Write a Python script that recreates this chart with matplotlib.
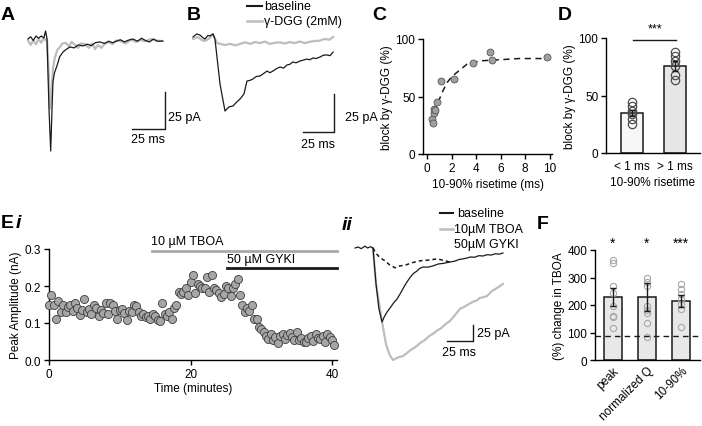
import numpy as np
import matplotlib.pyplot as plt
from matplotlib.lines import Line2D

plt.rcParams['font.family'] = ['Liberation Sans', 'DejaVu Sans']
plt.rcParams['font.size'] = 8.5
plt.rcParams['axes.linewidth'] = 1.0

# A: single EPSC, baseline vs gamma-DGG (ms, pA)
a_t = [0, 2, 4, 6, 8, 10, 12, 13.3, 14.4, 15.9, 17.2, 18.2, 18.9, 20, 22, 24, 26.5, 29, 31.8, 35, 38,
       41.7, 45, 48, 51, 54.5, 58, 61, 64, 67, 70, 73, 76, 79.5, 83, 86, 89, 92, 95, 98, 102]
a_base = [0, 1.5, -1, 2, 0.5, 2, 0.7, 5.4, 0, -47, -75.7, -47, -29, -23, -18, -12, -8.8, -7, -5.4, -6, -4,
          -4.7, -3.5, -4.5, -2.5, -2, -3, -1.5, -2.5, -1.4, -0.5, -2, -0.8, 0, -1.5, 0.5, -1, -2, 0, -1.5, -1.4]
a_dgg_t = [0, 2, 4, 6, 8, 10, 12, 13.5, 14.4, 15.9, 16.7, 17.8, 18.9, 20, 21.2, 22.5, 24.2, 26, 28.8, 31, 33,
           35.6, 38, 40, 43, 46, 48.5, 50.8, 53, 55.5, 58, 61, 64, 67, 70, 74, 78, 82, 85, 89, 93, 97, 102]
a_dgg = [-1, -4, -1, -3.5, 0, -2.5, 0.5, -1, 0, -27, -47, -37, -20, -14, -10, -7, -5.4, -3, -2.7, -5, -2,
         -4, -6, -3, -3.4, -6, -3, -6.8, -4, -6, -3.4, -2, -3.5, -1, -1.4, -3, -0.5, -2, -0.7, -1.5, 0, -1, -1.4]

# B
b_t = [0, 3, 5.6, 8, 9.7, 12, 13.7, 16.1, 17.7, 21.8, 25.8, 29, 32.3, 35, 37.9, 41.1, 43.5, 46, 48.4, 51, 54,
       57, 59.7, 62, 64.5, 67, 70.2, 73, 75.8, 78, 80.6, 83, 86.3, 89, 91.9, 94, 96.8, 99, 102.4, 105, 108, 110.5, 113]
b_base = [0, 2, 1.3, -0.5, -1.3, 1, 0.7, 2, -1.3, -31, -48.7, -46, -45.4, -43, -40.8, -37.5, -29, -28.5, -27.6,
          -26, -25.7, -24, -22.4, -23.5, -22.4, -21, -19.7, -20.5, -18.4, -18, -16.4, -17, -15.8, -15.2, -14.5,
          -15, -13.8, -14.2, -13.2, -12, -11.8, -12.3, -9.9]
b_dgg_t = [0, 4, 7, 9.7, 13, 16.1, 19.4, 22, 25.8, 30, 34, 37.9, 42, 46, 50, 54, 58, 62, 66, 70, 74, 78, 82,
           86, 90, 94, 98, 102, 106, 110, 113]
b_dgg = [-1.3, 0, -2, -2.6, -1, 2, -4, -4.5, -5.3, -4.5, -5.5, -4.6, -3.5, -4.5, -3.3, -4, -3, -4.6, -3.8,
         -3.5, -4.3, -3.3, -4, -3, -4, -3.2, -2.6, -2.5, -1.3, -1.8, 0]

# C: block vs risetime
c_rise = [0.41, 0.49, 0.54, 0.59, 0.65, 0.81, 1.16, 2.22, 3.79, 5.15, 5.31, 9.76]
c_block = [30.4, 27, 36, 39, 38, 45.5, 63.7, 65, 79, 89, 81.7, 84]
c_fit_x = [0.33, 0.6, 0.94, 1.3, 1.63, 2.0, 2.44, 3.25, 4.33, 5.96, 7.5, 9.7]
c_fit_y = [27.6, 37, 46, 55, 62, 67, 71, 78, 81, 82, 83, 83]

# D
d_labels = ['< 1 ms', '> 1 ms']
d_mean = [34.8, 75.9]
d_sem = [3, 4.5]
d_points = [[44.6, 40.6, 36.3, 34, 29.6, 25.2], [87.6, 84, 80.3, 76, 67.8, 63.5]]

# E i: time course (min, nA)
ei_amp = [0.150, 0.175, 0.148, 0.112, 0.160, 0.130, 0.148, 0.130, 0.142, 0.150, 0.132, 0.155,
          0.140, 0.122, 0.135, 0.165, 0.130, 0.138, 0.124, 0.150, 0.140, 0.120, 0.135, 0.128,
          0.155, 0.125, 0.155, 0.150, 0.132, 0.112, 0.135, 0.138, 0.128, 0.108, 0.132, 0.130,
          0.148, 0.145, 0.130, 0.118, 0.125, 0.115, 0.120, 0.112, 0.125, 0.118, 0.108, 0.105,
          0.155, 0.125, 0.120, 0.130, 0.112, 0.140, 0.148, 0.185, 0.178, 0.185, 0.195, 0.175,
          0.210, 0.230, 0.180, 0.205, 0.200, 0.195, 0.195, 0.225, 0.185, 0.230, 0.195, 0.190,
          0.180, 0.170, 0.178, 0.200, 0.195, 0.172, 0.195, 0.205, 0.220, 0.175, 0.150, 0.130,
          0.140, 0.132, 0.150, 0.112, 0.112, 0.088, 0.085, 0.075, 0.065, 0.058, 0.070, 0.055,
          0.062, 0.045, 0.065, 0.070, 0.058, 0.068, 0.072, 0.062, 0.055, 0.075, 0.055, 0.060,
          0.050, 0.048, 0.060, 0.065, 0.052, 0.070, 0.060, 0.058, 0.065, 0.048, 0.070, 0.062,
          0.055, 0.040]
ei_time = np.arange(len(ei_amp)) / 3.0
tboa_on, gyki_on, drug_off = 14.6, 25.2, 40.7

# E ii traces (ms, pA)
e_t = [0, 3, 6, 9.6, 12, 15, 17.3, 20.2, 23, 26, 28, 30.8, 34, 37, 40.4, 44, 47, 50, 53, 56, 59.6, 62, 65.4,
       70, 75, 80, 85, 91.3, 96, 100, 104, 107.7, 111, 115, 119, 123, 127, 131, 135, 139, 142.3]
e_base = [0, 1.5, -1, 3, 0, 2, 0, -56, -95, -115.6, -108, -100, -93, -86, -79.7, -70, -61, -53, -46, -40, -36,
          -32, -29.7, -30, -28, -25, -24, -21.9, -20.5, -18, -17, -15.6, -14, -14.5, -12, -12.5, -10.5, -11,
          -9, -9.5, -7.8]
e_tboa_t = [17.3, 20.2, 26, 29.8, 33, 36.5, 40, 43, 46, 50, 53, 56, 59.6, 63, 67, 71, 75, 79, 83, 87,
            91.3, 95, 98, 101, 105, 109, 113.5, 117, 120, 123, 127, 131, 135, 139, 142.3]
e_tboa = [0, -56, -115.6, -150, -166, -175, -172, -170, -169, -164, -160, -157, -153, -148, -144, -138,
          -134, -129, -125, -119, -114, -107, -101, -95, -92, -88, -84, -82, -78, -77, -75, -68, -64, -60, -56]
e_gyki_t = [17.3, 20, 24, 28.8, 33, 38.5, 43, 48, 55, 62.5, 70, 79, 87, 91]
e_gyki = [0, -8, -15, -20, -26, -31, -28, -27, -23, -20, -19, -17, -20, -22]

# F: % change in TBOA
f_labels = ['peak', 'normalized Q', '10-90%']
f_mean = [228, 230, 216]
f_sem = [33, 50, 22]
f_points = [[365, 352, 270, 245, 195, 160, 155, 118],
            [298, 285, 268, 198, 182, 172, 135, 82],
            [275, 258, 240, 222, 205, 185, 120]]
f_stars = ['*', '*', '***']
f_ref = 86

BLACK = '#1a1a1a'
GREY = '#bdbdbd'
W, H = 702, 427

fig = plt.figure(figsize=(W / 100, H / 100), dpi=100)


def box(l, t, r, b):
    return fig.add_axes([l / W, 1 - b / H, (r - l) / W, (b - t) / H])


def trace_axes(l, t, r, b, x0, y0, sx, sy):
    ax = box(l, t, r, b)
    ax.set_xlim((l - x0) / sx, (r - x0) / sx)
    ax.set_ylim(-(b - y0) / sy, -(t - y0) / sy)
    ax.axis('off')
    return ax


def ftext(x, y, s, **kw):
    fig.text(x / W, 1 - y / H, s, **kw)


def fline(x0, x1, y, **kw):
    fig.add_artist(Line2D([x0 / W, x1 / W], [1 - y / H, 1 - y / H], **kw))


def scalebar(ax, x, y, dx=25, dy=25):
    ax.plot([x - dx, x, x], [y, y, y + dy], color=BLACK, lw=1.0, clip_on=False)


def style(ax):
    for s in ['top', 'right']:
        ax.spines[s].set_visible(False)
    ax.tick_params(direction='out', length=3.5, width=1.0, pad=2, labelsize=8.5)


def panel(x, y, s, **kw):
    ftext(x, y, s, fontsize=14, fontweight='bold', va='center', ha='left', **kw)


# ---- A
ax = trace_axes(20, 20, 180, 160, 28, 40, 1.32, 1.48)
ax.plot(a_dgg_t, a_dgg, color=GREY, lw=1.6)
ax.plot(a_t, a_base, color=BLACK, lw=0.9)
scalebar(ax, 103.8, -60.8)
ax.text(106, -52.7, '25 pA', fontsize=9, va='center')
ax.text(91, -67.6, '25 ms', fontsize=9, va='center', ha='center')
panel(1, 16, 'A')

# ---- B
ax = trace_axes(185, 20, 340, 160, 193, 38, 1.24, 1.52)
ax.plot(b_dgg_t, b_dgg, color=GREY, lw=1.6)
ax.plot(b_t, b_base, color=BLACK, lw=0.9)
scalebar(ax, 113.7, -62.5)
ax.text(122.5, -52.5, '25 pA', fontsize=9, va='center')
ax.text(101, -70.5, '25 ms', fontsize=9, va='center', ha='center')
panel(187, 16, 'B')
fline(247, 262, 7, color=BLACK, lw=1.5)
fline(247, 262, 22, color=GREY, lw=1.8)
ftext(264, 7, 'baseline', fontsize=9, va='center')
ftext(264, 22, 'γ-DGG (2mM)', fontsize=9, va='center')

# ---- C
ax = box(423, 40, 552, 155)
style(ax)
ax.plot(c_fit_x, c_fit_y, color=BLACK, lw=1.1, ls=(0, (4, 3)))
ax.plot(c_rise, c_block, 'o', ms=5, mfc='#a0a0a0', mec='#555555', mew=0.6, clip_on=False)
ax.set_xlim(-0.33, 10.2)
ax.set_ylim(0, 100)
ax.set_xticks([0, 2, 4, 6, 8, 10])
ax.set_yticks([0, 50, 100])
ax.set_xlabel('10-90% risetime (ms)', labelpad=3)
ax.set_ylabel('block by γ-DGG (%)', labelpad=2)
panel(372, 16, 'C')

# ---- D
ax = box(606, 39, 700, 154)
style(ax)
ax.tick_params(axis='x', length=0, pad=5)
xd = np.arange(len(d_labels))
ax.bar(xd, d_mean, width=0.51, color=['#f7f7f7', '#e6e6e6'], edgecolor=BLACK, lw=1.1, zorder=1)
ax.errorbar(xd, d_mean, yerr=d_sem, fmt='none', ecolor=BLACK, elinewidth=1.0, capsize=2.5, zorder=3)
for i, pts in enumerate(d_points):
    ax.plot([xd[i]] * len(pts), pts, 'o', ms=6, mfc='none', mec='#4d4d4d', mew=0.9, zorder=2)
ax.set_xlim(-0.605, 1.58)
ax.set_ylim(0, 100)
ax.set_yticks([0, 50, 100])
ax.set_xticks(xd)
ax.set_xticklabels(d_labels)
ax.set_xlabel('10-90% risetime', labelpad=3)
ax.set_ylabel('block by γ-DGG (%)', labelpad=2)
ax.plot([0.03, 1.03], [98.5, 98.5], color=BLACK, lw=1.0, clip_on=False)
ax.text(0.53, 103, '***', ha='center', va='bottom', fontsize=9)
panel(558, 16, 'D')

# ---- E i
ax = box(49, 250, 337, 361)
style(ax)
ax.scatter(ei_time, ei_amp, s=34, c='#a6a6a6', edgecolors='#3d3d3d', linewidths=0.6, zorder=3, clip_on=False)
ax.set_xlim(0, 40.7)
ax.set_ylim(0, 0.3)
ax.set_xticks([0, 20, 40])
ax.set_yticks([0, 0.1, 0.2, 0.3])
ax.set_yticklabels(['0.0', '0.1', '0.2', '0.3'])
ax.set_xlabel('Time (minutes)', labelpad=2)
ax.set_ylabel('Peak Amplitude (nA)', labelpad=2)
ax.plot([tboa_on, drug_off], [0.295, 0.295], color='#a8a8a8', lw=2.0, clip_on=False)
ax.plot([gyki_on, drug_off], [0.249, 0.249], color=BLACK, lw=2.0, clip_on=False)
ax.text(tboa_on - 0.2, 0.305, '10 µM TBOA', va='bottom', fontsize=9)
ax.text(gyki_on, 0.258, '50 µM GYKI', va='bottom', fontsize=9)
panel(1, 224, 'E')
ftext(16, 224, 'i', fontsize=14, fontweight='bold', fontstyle='italic', va='center')

# ---- E ii
ax = trace_axes(340, 200, 520, 380, 355, 249, 1.04, 0.64)
ax.plot(e_tboa_t, e_tboa, color=GREY, lw=1.6)
ax.plot(e_gyki_t, e_gyki, color=BLACK, lw=1.1, ls=(0, (2.5, 2)))
ax.plot(e_t, e_base, color=BLACK, lw=0.9)
scalebar(ax, 113.5, -145)
ax.text(117, -133, '25 pA', fontsize=9, va='center')
ax.text(100, -162, '25 ms', fontsize=9, va='center', ha='center')
ftext(342, 226, 'ii', fontsize=14, fontweight='bold', fontstyle='italic', va='center')
fline(440, 453, 214, color=BLACK, lw=1.5)
fline(440, 453, 230, color=GREY, lw=1.8)
ftext(457, 214, 'baseline', fontsize=9, va='center')
ftext(454, 230, '10µM TBOA', fontsize=9, va='center')
ftext(454, 245, '50µM GYKI', fontsize=9, va='center')

# ---- F
ax = box(595, 251, 700, 361)
style(ax)
ax.tick_params(axis='x', length=0, pad=3)
xf = np.arange(len(f_labels))
ax.bar(xf, f_mean, width=0.53, color='#e8e8e8', edgecolor=BLACK, lw=1.1, zorder=1)
ax.errorbar(xf, f_mean, yerr=f_sem, fmt='none', ecolor=BLACK, elinewidth=1.0, capsize=2.5, zorder=3)
for i, pts in enumerate(f_points):
    ax.plot([xf[i]] * len(pts), pts, 'o', ms=4.5, mfc='none', mec='#a8a8a8', mew=0.8, zorder=2)
ax.axhline(f_ref, color=BLACK, lw=1.0, ls=(0, (4, 3)), zorder=4, xmax=1.0)
for i, s in enumerate(f_stars):
    ax.text(xf[i], 428, s, ha='center', va='center', fontsize=10)
ax.set_xlim(-0.53, 2.56)
ax.set_ylim(0, 400)
ax.set_yticks([0, 100, 200, 300, 400])
ax.set_xticks(xf)
ax.set_xticklabels(f_labels, rotation=45, ha='right', rotation_mode='anchor')
ax.set_ylabel('(%) change in TBOA', labelpad=2)
panel(537, 225, 'F')

fig.savefig('out.png', dpi=100)
